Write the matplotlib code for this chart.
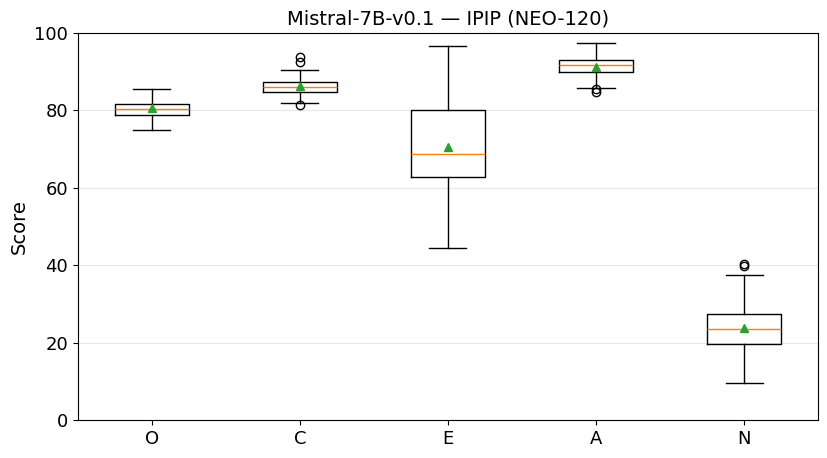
import matplotlib
matplotlib.use("Agg")
import matplotlib.pyplot as plt

traits = ["O", "C", "E", "A", "N"]
whislo = [74.9, 81.8, 44.4, 85.7, 9.5]
q1 = [78.7, 84.8, 62.8, 90.0, 19.6]
med = [80.3, 86.1, 68.7, 91.7, 23.4]
q3 = [81.6, 87.3, 80.0, 92.9, 27.3]
whishi = [85.5, 90.4, 96.6, 97.3, 37.5]
means = [80.5, 86.2, 70.6, 91.3, 23.7]
fliers = [[], [93.8, 92.5, 81.3], [], [85.4, 84.7], [40.3, 39.8]]

stats = []
for i, t in enumerate(traits):
    stats.append(dict(label=t, whislo=whislo[i], q1=q1[i], med=med[i],
                      q3=q3[i], whishi=whishi[i], mean=means[i], fliers=fliers[i]))

fig, ax = plt.subplots(figsize=(8.28, 4.58), dpi=100)
ax.bxp(stats, showmeans=True)
ax.set_ylim(0, 100)
ax.set_ylabel("Score", fontsize=14)
ax.set_title("Mistral-7B-v0.1 — IPIP (NEO-120)", fontsize=14)
ax.tick_params(labelsize=13)
ax.yaxis.grid(True, alpha=0.3)
ax.set_axisbelow(True)
plt.subplots_adjust(left=0.094, right=0.988, top=0.928, bottom=0.083)
plt.savefig("out.png", dpi=100)
